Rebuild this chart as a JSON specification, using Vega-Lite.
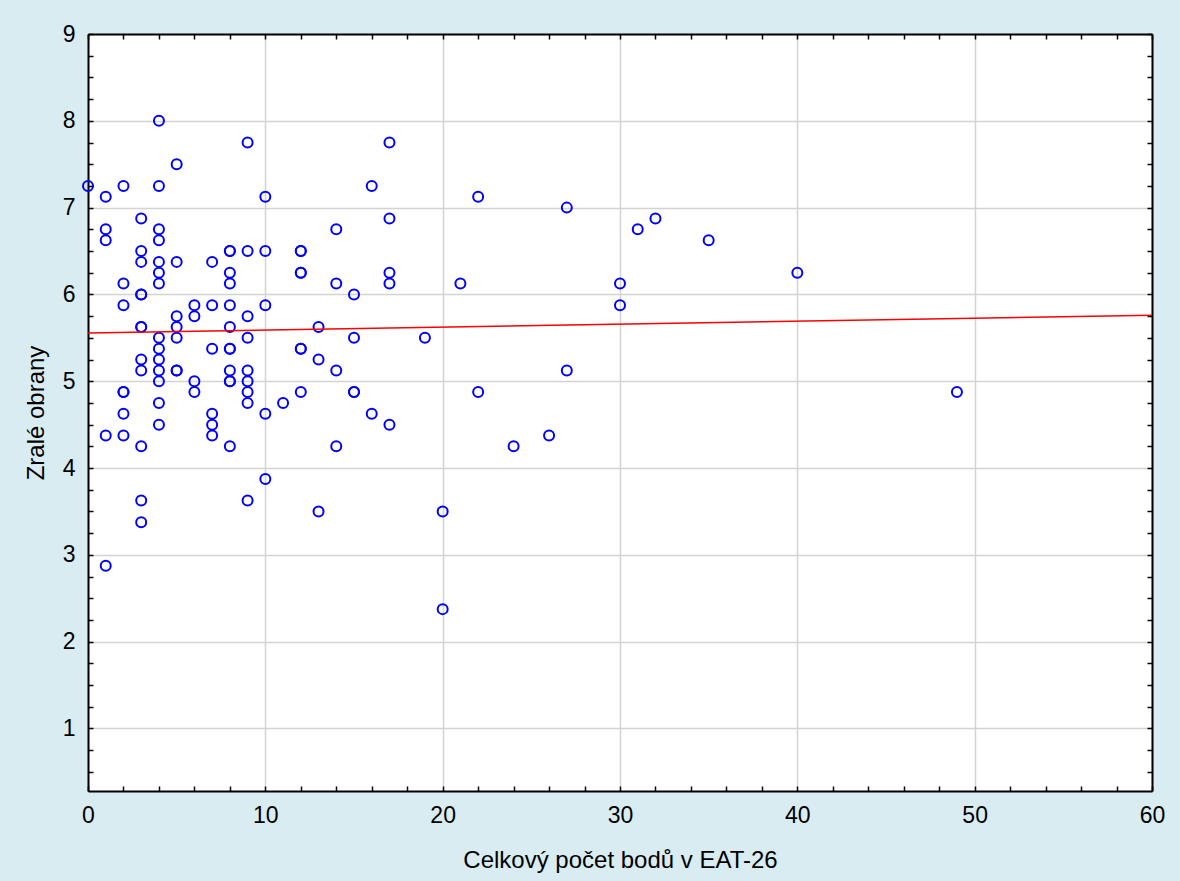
{
  "$schema": "https://vega.github.io/schema/vega-lite/v6.json",
  "width": 1064,
  "height": 757,
  "autosize": {"type": "none"},
  "padding": {"left": 88, "top": 34, "right": 28, "bottom": 90},
  "background": "#d9ecf2",
  "config": {"view": {"stroke": null, "fill": "white"}, "font": "Liberation Sans"},
  "data": {"values": [
    {"eat": 0, "obrany": 7.25},
    {"eat": 1, "obrany": 7.125}, {"eat": 1, "obrany": 6.75}, {"eat": 1, "obrany": 6.625}, {"eat": 1, "obrany": 4.375}, {"eat": 1, "obrany": 2.875},
    {"eat": 2, "obrany": 7.25}, {"eat": 2, "obrany": 6.125}, {"eat": 2, "obrany": 5.875}, {"eat": 2, "obrany": 4.875}, {"eat": 2, "obrany": 4.875}, {"eat": 2, "obrany": 4.625}, {"eat": 2, "obrany": 4.375},
    {"eat": 3, "obrany": 6.875}, {"eat": 3, "obrany": 6.5}, {"eat": 3, "obrany": 6.375}, {"eat": 3, "obrany": 6.0}, {"eat": 3, "obrany": 6.0}, {"eat": 3, "obrany": 5.625}, {"eat": 3, "obrany": 5.625}, {"eat": 3, "obrany": 5.25}, {"eat": 3, "obrany": 5.125}, {"eat": 3, "obrany": 4.25}, {"eat": 3, "obrany": 3.625}, {"eat": 3, "obrany": 3.375},
    {"eat": 4, "obrany": 8.0}, {"eat": 4, "obrany": 7.25}, {"eat": 4, "obrany": 6.75}, {"eat": 4, "obrany": 6.625}, {"eat": 4, "obrany": 6.375}, {"eat": 4, "obrany": 6.25}, {"eat": 4, "obrany": 6.125}, {"eat": 4, "obrany": 5.5}, {"eat": 4, "obrany": 5.375}, {"eat": 4, "obrany": 5.25}, {"eat": 4, "obrany": 5.125}, {"eat": 4, "obrany": 5.0}, {"eat": 4, "obrany": 4.75}, {"eat": 4, "obrany": 4.5},
    {"eat": 5, "obrany": 7.5}, {"eat": 5, "obrany": 6.375}, {"eat": 5, "obrany": 5.75}, {"eat": 5, "obrany": 5.625}, {"eat": 5, "obrany": 5.5}, {"eat": 5, "obrany": 5.125}, {"eat": 5, "obrany": 5.125},
    {"eat": 6, "obrany": 5.875}, {"eat": 6, "obrany": 5.75}, {"eat": 6, "obrany": 5.0}, {"eat": 6, "obrany": 4.875},
    {"eat": 7, "obrany": 6.375}, {"eat": 7, "obrany": 5.875}, {"eat": 7, "obrany": 5.375}, {"eat": 7, "obrany": 4.625}, {"eat": 7, "obrany": 4.5}, {"eat": 7, "obrany": 4.375},
    {"eat": 8, "obrany": 6.5}, {"eat": 8, "obrany": 6.5}, {"eat": 8, "obrany": 6.25}, {"eat": 8, "obrany": 6.125}, {"eat": 8, "obrany": 5.875}, {"eat": 8, "obrany": 5.625}, {"eat": 8, "obrany": 5.375}, {"eat": 8, "obrany": 5.375}, {"eat": 8, "obrany": 5.125}, {"eat": 8, "obrany": 5.0}, {"eat": 8, "obrany": 5.0}, {"eat": 8, "obrany": 4.25},
    {"eat": 9, "obrany": 7.75}, {"eat": 9, "obrany": 6.5}, {"eat": 9, "obrany": 5.75}, {"eat": 9, "obrany": 5.5}, {"eat": 9, "obrany": 5.125}, {"eat": 9, "obrany": 5.0}, {"eat": 9, "obrany": 4.875}, {"eat": 9, "obrany": 4.75}, {"eat": 9, "obrany": 3.625},
    {"eat": 10, "obrany": 7.125}, {"eat": 10, "obrany": 6.5}, {"eat": 10, "obrany": 5.875}, {"eat": 10, "obrany": 4.625}, {"eat": 10, "obrany": 3.875},
    {"eat": 11, "obrany": 4.75},
    {"eat": 12, "obrany": 6.5}, {"eat": 12, "obrany": 6.5}, {"eat": 12, "obrany": 6.25}, {"eat": 12, "obrany": 6.25}, {"eat": 12, "obrany": 5.375}, {"eat": 12, "obrany": 5.375}, {"eat": 12, "obrany": 4.875},
    {"eat": 13, "obrany": 5.625}, {"eat": 13, "obrany": 5.25}, {"eat": 13, "obrany": 3.5},
    {"eat": 14, "obrany": 6.75}, {"eat": 14, "obrany": 6.125}, {"eat": 14, "obrany": 5.125}, {"eat": 14, "obrany": 4.25},
    {"eat": 15, "obrany": 6.0}, {"eat": 15, "obrany": 5.5}, {"eat": 15, "obrany": 4.875}, {"eat": 15, "obrany": 4.875},
    {"eat": 16, "obrany": 7.25}, {"eat": 16, "obrany": 4.625},
    {"eat": 17, "obrany": 7.75}, {"eat": 17, "obrany": 6.875}, {"eat": 17, "obrany": 6.25}, {"eat": 17, "obrany": 6.125}, {"eat": 17, "obrany": 4.5},
    {"eat": 19, "obrany": 5.5},
    {"eat": 20, "obrany": 3.5}, {"eat": 20, "obrany": 2.375},
    {"eat": 21, "obrany": 6.125},
    {"eat": 22, "obrany": 7.125}, {"eat": 22, "obrany": 4.875},
    {"eat": 24, "obrany": 4.25},
    {"eat": 26, "obrany": 4.375},
    {"eat": 27, "obrany": 7.0}, {"eat": 27, "obrany": 5.125},
    {"eat": 30, "obrany": 6.125}, {"eat": 30, "obrany": 5.875},
    {"eat": 31, "obrany": 6.75},
    {"eat": 32, "obrany": 6.875},
    {"eat": 35, "obrany": 6.625},
    {"eat": 40, "obrany": 6.25},
    {"eat": 49, "obrany": 4.875}
  ]},
  "layer": [
    {
      "mark": {"type": "point", "shape": "circle", "filled": false, "color": "#0000ff", "size": 100, "strokeWidth": 2, "opacity": 1},
      "encoding": {
        "x": {
          "field": "eat", "type": "quantitative",
          "scale": {"domain": [0, 60], "nice": false, "zero": false},
          "axis": {
            "orient": "bottom",
            "title": "Celkový počet bodů v EAT-26",
            "values": [0,2,4,6,8,10,12,14,16,18,20,22,24,26,28,30,32,34,36,38,40,42,44,46,48,50,52,54,56,58,60],
            "labelExpr": "datum.value % 10 === 0 ? format(datum.value, 'd') : ''",
            "grid": true,
            "gridColor": {"condition": {"test": "datum.value % 10 === 0", "value": "#d3d3d3"}, "value": "transparent"},
            "gridWidth": 1.5,
            "domainColor": "black", "domainWidth": 2,
            "tickColor": "black", "tickWidth": 1.5, "tickSize": -5,
            "labelFontSize": 23, "labelColor": "black", "labelPadding": 18, "labelFlush": false, "labelOverlap": false,
            "titleFontSize": 24, "titleFontWeight": "normal", "titleColor": "black", "titlePadding": 21
          }
        },
        "y": {
          "field": "obrany", "type": "quantitative",
          "scale": {"domain": [0.28, 9], "nice": false, "zero": false},
          "axis": {
            "orient": "left",
            "title": "Zralé obrany",
            "values": [0.5,0.75,1,1.25,1.5,1.75,2,2.25,2.5,2.75,3,3.25,3.5,3.75,4,4.25,4.5,4.75,5,5.25,5.5,5.75,6,6.25,6.5,6.75,7,7.25,7.5,7.75,8,8.25,8.5,8.75,9],
            "labelExpr": "datum.value % 1 === 0 ? format(datum.value, 'd') : ''",
            "grid": true,
            "gridColor": {"condition": {"test": "datum.value % 1 === 0", "value": "#d3d3d3"}, "value": "transparent"},
            "gridWidth": 1.5,
            "domainColor": "black", "domainWidth": 2,
            "tickColor": "black", "tickWidth": 1.5, "tickSize": -5,
            "labelFontSize": 23, "labelColor": "black", "labelPadding": 18, "labelFlush": false, "labelOverlap": false,
            "titleFontSize": 24, "titleFontWeight": "normal", "titleColor": "black", "titlePadding": 14
          }
        }
      }
    },
    {
      "transform": [{"regression": "obrany", "on": "eat", "extent": [0, 60]}],
      "mark": {"type": "line", "color": "#ff0000", "strokeWidth": 1.6},
      "encoding": {
        "x": {
          "field": "eat", "type": "quantitative",
          "axis": {
            "orient": "top", "title": null, "labels": false, "grid": false,
            "values": [0,2,4,6,8,10,12,14,16,18,20,22,24,26,28,30,32,34,36,38,40,42,44,46,48,50,52,54,56,58,60],
            "domainColor": "black", "domainWidth": 2,
            "tickColor": "black", "tickWidth": 1.5, "tickSize": -5
          }
        },
        "y": {
          "field": "obrany", "type": "quantitative",
          "axis": {
            "orient": "right", "title": null, "labels": false, "grid": false,
            "values": [0.5,0.75,1,1.25,1.5,1.75,2,2.25,2.5,2.75,3,3.25,3.5,3.75,4,4.25,4.5,4.75,5,5.25,5.5,5.75,6,6.25,6.5,6.75,7,7.25,7.5,7.75,8,8.25,8.5,8.75,9],
            "domainColor": "black", "domainWidth": 2,
            "tickColor": "black", "tickWidth": 1.5, "tickSize": -5
          }
        }
      }
    }
  ],
  "resolve": {"axis": {"x": "independent", "y": "independent"}}
}
